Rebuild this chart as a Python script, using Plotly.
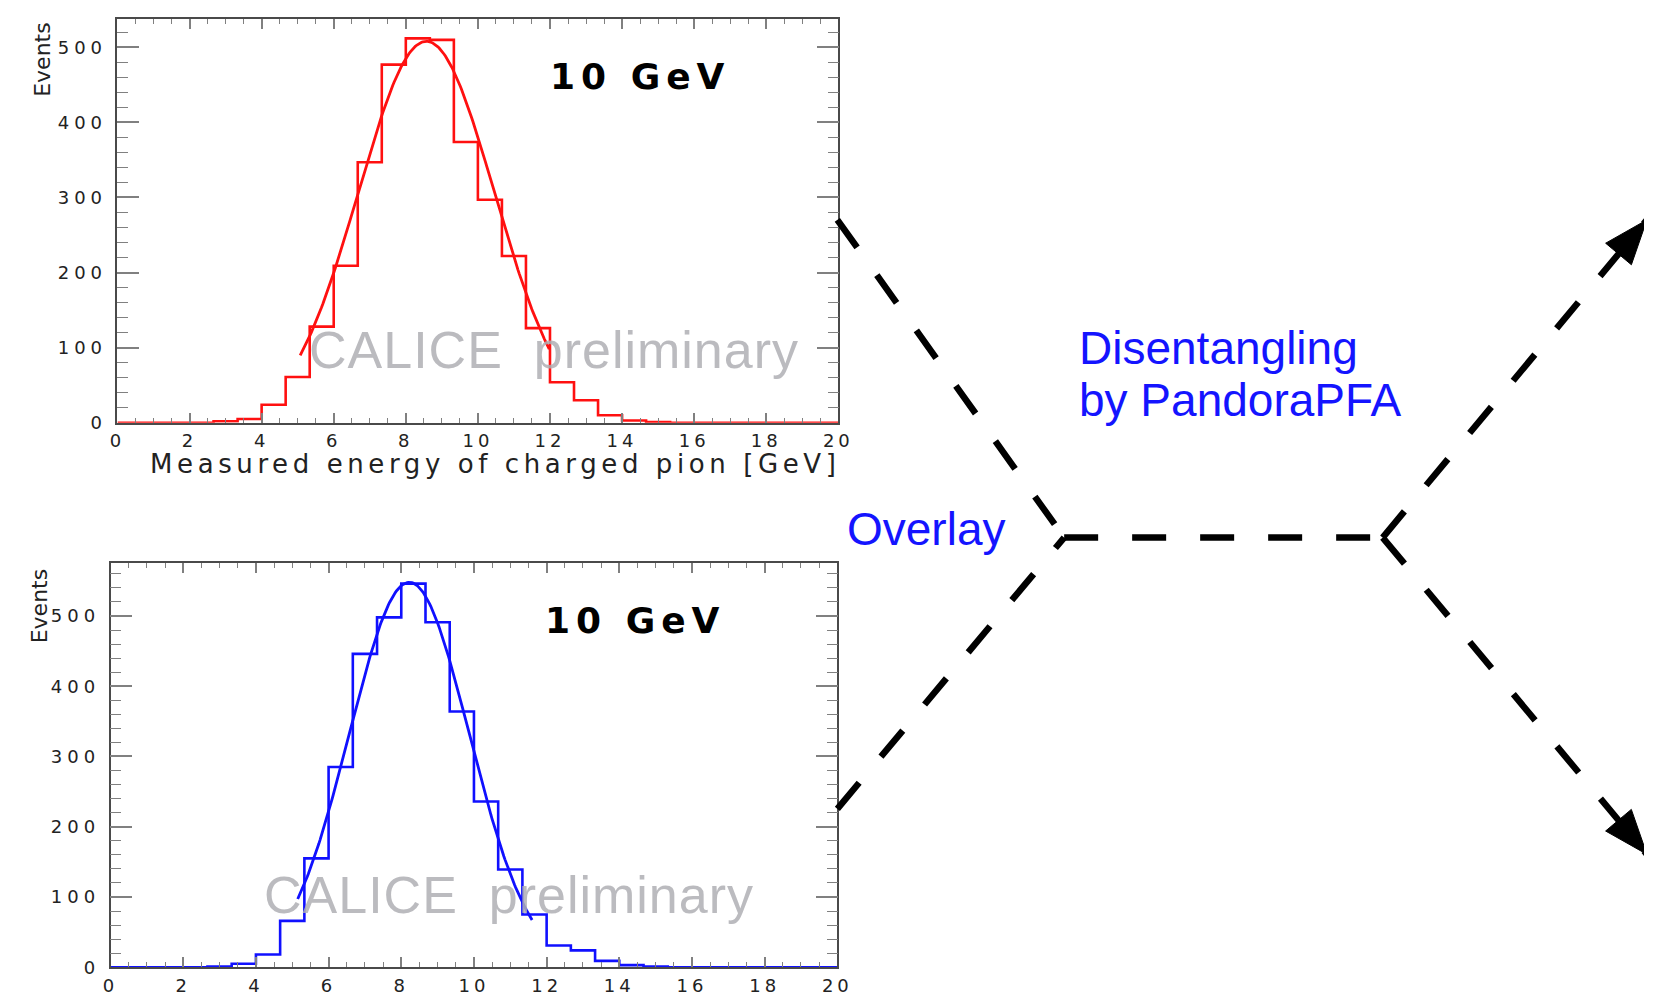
import numpy as np
import plotly.graph_objects as go

# ---------------------------------------------------------------------------
# Data
# ---------------------------------------------------------------------------
# 30 bins of 2/3 GeV covering 0-20 GeV
bin_edges = np.linspace(0.0, 20.0, 31)

# Measured energy of the charged pion (upper panel)
charged_counts = [0, 0, 0, 0, 2, 5, 24, 61, 128, 209, 347, 477, 512, 510, 374,
                  297, 222, 126, 54, 30, 10, 3, 1, 0, 0, 0, 0, 0, 0, 0]
# Gaussian fit of the upper panel: amplitude, mean, sigma, fit range
charged_fit = dict(amp=508.0, mean=8.57, sigma=1.88, lo=5.07, hi=11.98)

# Reconstructed energy after the overlay (lower panel)
overlay_counts = [0, 0, 0, 0, 1, 5, 18, 66, 155, 285, 446, 498, 546, 491, 364,
                  236, 139, 75, 31, 24, 9, 3, 1, 0, 0, 0, 0, 0, 0, 0]
overlay_fit = dict(amp=548.0, mean=8.22, sigma=1.65, lo=5.15, hi=11.6)

x_tick_values = [0, 2, 4, 6, 8, 10, 12, 14, 16, 18, 20]
y_tick_values = [0, 100, 200, 300, 400, 500]

# Flow diagram nodes (page pixel frame, origin top-left)
upper_start = (841, 222)
lower_start = (841, 817)
merge_node = (1071, 543)
split_node = (1394, 543)
upper_end = (1662, 222)
lower_end = (1662, 863)
arrow_len, arrow_half_width = 45, 17

W, H = 1659, 999

RED = "#ff1010"
BLUE = "#1010ff"
TEXT_BLUE = "#1414ff"


def spaced(text, px):
    return f"<span style='letter-spacing:{px}px'>{text}</span>"


def step_xy(counts):
    return list(bin_edges), list(counts) + [counts[-1]]


def gauss_curve(p, n=200):
    xs = np.linspace(p["lo"], p["hi"], n)
    ys = p["amp"] * np.exp(-0.5 * ((xs - p["mean"]) / p["sigma"]) ** 2)
    return xs, ys


fig = go.Figure()

# Upper panel
hx, hy = step_xy(charged_counts)
fig.add_trace(go.Scatter(x=hx, y=hy, mode="lines", line=dict(color=RED, width=2.6, shape="hv"),
                         xaxis="x", yaxis="y", showlegend=False, hoverinfo="skip"))
fx, fy = gauss_curve(charged_fit)
fig.add_trace(go.Scatter(x=fx, y=fy, mode="lines", line=dict(color=RED, width=2.8),
                         xaxis="x", yaxis="y", showlegend=False, hoverinfo="skip"))

# Lower panel
hx, hy = step_xy(overlay_counts)
fig.add_trace(go.Scatter(x=hx, y=hy, mode="lines", line=dict(color=BLUE, width=2.6, shape="hv"),
                         xaxis="x2", yaxis="y2", showlegend=False, hoverinfo="skip"))
fx, fy = gauss_curve(overlay_fit)
fig.add_trace(go.Scatter(x=fx, y=fy, mode="lines", line=dict(color=BLUE, width=2.8),
                         xaxis="x2", yaxis="y2", showlegend=False, hoverinfo="skip"))

# Flow diagram: dashed paths
dash = dict(color="black", width=6.5, dash="34px,34px")
segments = [
    [upper_start, merge_node],
    [lower_start, merge_node],
    [merge_node, split_node],
    [split_node, upper_end],
    [split_node, lower_end],
]
for seg in segments:
    fig.add_trace(go.Scatter(x=[p[0] for p in seg], y=[p[1] for p in seg], mode="lines",
                             line=dash, xaxis="x3", yaxis="y3", showlegend=False,
                             hoverinfo="skip"))


# Solid arrow heads on the outgoing paths
def arrow_head(start, tip):
    s, t = np.asarray(start, float), np.asarray(tip, float)
    u = (t - s) / np.linalg.norm(t - s)
    n = np.array([-u[1], u[0]])
    base = t - arrow_len * u
    pts = [t, base + arrow_half_width * n, base - arrow_half_width * n, t]
    return [p[0] for p in pts], [p[1] for p in pts]


for tip in (upper_end, lower_end):
    ax_, ay_ = arrow_head(split_node, tip)
    fig.add_trace(go.Scatter(x=ax_, y=ay_, mode="lines", fill="toself", fillcolor="black",
                             line=dict(color="black", width=1), xaxis="x3", yaxis="y3",
                             showlegend=False, hoverinfo="skip"))


def hist_axes(x0, x1, y0, y1, yrange, anchor_x, anchor_y):
    tick_font = dict(family="DejaVu Sans", size=18, color="#222222")
    common = dict(showline=True, linecolor="#4a4a4a", linewidth=1.6, mirror="ticks",
                  ticks="inside", tickcolor="#808080", tickwidth=1.6, showgrid=False,
                  zeroline=False, tickfont=tick_font, fixedrange=True)
    xa = dict(common, domain=[x0 / W, x1 / W], anchor=anchor_y, range=[0, 20],
              tickvals=x_tick_values, ticktext=[spaced(v, 4) for v in x_tick_values],
              ticklen=10, minor=dict(dtick=0.5, ticklen=5, ticks="inside",
                                     tickcolor="#808080", tickwidth=1.4),
              ticklabelstandoff=1)
    ya = dict(common, domain=[1 - y1 / H, 1 - y0 / H], anchor=anchor_x, range=yrange,
              tickvals=y_tick_values, ticktext=[spaced(v, 5) for v in y_tick_values],
              ticklen=22, minor=dict(dtick=20, ticklen=11, ticks="inside",
                                     tickcolor="#808080", tickwidth=1.4),
              ticklabelstandoff=5)
    return xa, ya


xa1, ya1 = hist_axes(111, 842, 19, 427, [0, 538], "x", "y")
xa2, ya2 = hist_axes(104, 841, 569, 977, [0, 575], "x2", "y2")

fig.update_layout(
    width=W, height=H,
    margin=dict(l=0, r=0, t=0, b=0),
    paper_bgcolor="white", plot_bgcolor="rgba(0,0,0,0)",
    xaxis=xa1, yaxis=ya1, xaxis2=xa2, yaxis2=ya2,
    xaxis3=dict(domain=[0, 1], range=[0, W], visible=False, anchor="y3", fixedrange=True),
    yaxis3=dict(domain=[0, 1], range=[H, 0], visible=False, anchor="x3", fixedrange=True),
    showlegend=False,
)

ann = []


def label(x, y, text, font, xanchor="left", yanchor="middle", angle=0):
    ann.append(dict(x=x, y=y, xref="x3", yref="y3", text=text, showarrow=False,
                    xanchor=xanchor, yanchor=yanchor, textangle=angle, font=font))


# Axis titles
label(846, 469, spaced("Measured energy of charged pion [GeV]", 4.6),
      dict(family="DejaVu Sans", size=26, color="#222222"), xanchor="right")
label(35, 20, "Events", dict(family="DejaVu Sans", size=22, color="#222222"),
      xanchor="center", yanchor="top", angle=-90)
label(32, 572, "Events", dict(family="DejaVu Sans", size=22, color="#222222"),
      xanchor="center", yanchor="top", angle=-90)

# Beam energy labels
gev_font = dict(family="DejaVu Sans", size=36, color="black", weight="bold")
label(548, 77, spaced("10 GeV", 6), gev_font)
label(543, 627, spaced("10 GeV", 6), gev_font)

# Preliminary watermarks
wm_font = dict(family="Liberation Sans", size=52, color="rgba(175,175,180,0.85)")
label(554, 354, spaced("CALICE&nbsp;&nbsp;preliminary", 1), wm_font, xanchor="center")
label(508, 904, spaced("CALICE&nbsp;&nbsp;preliminary", 1), wm_font, xanchor="center")

# Diagram labels
blue_font = dict(family="Liberation Sans", size=46, color=TEXT_BLUE)
label(849, 534, "Overlay", blue_font)
label(1084, 352, "Disentangling", blue_font)
label(1084, 404, "by PandoraPFA", blue_font)

fig.update_layout(annotations=ann)

fig.write_html("out.html")
